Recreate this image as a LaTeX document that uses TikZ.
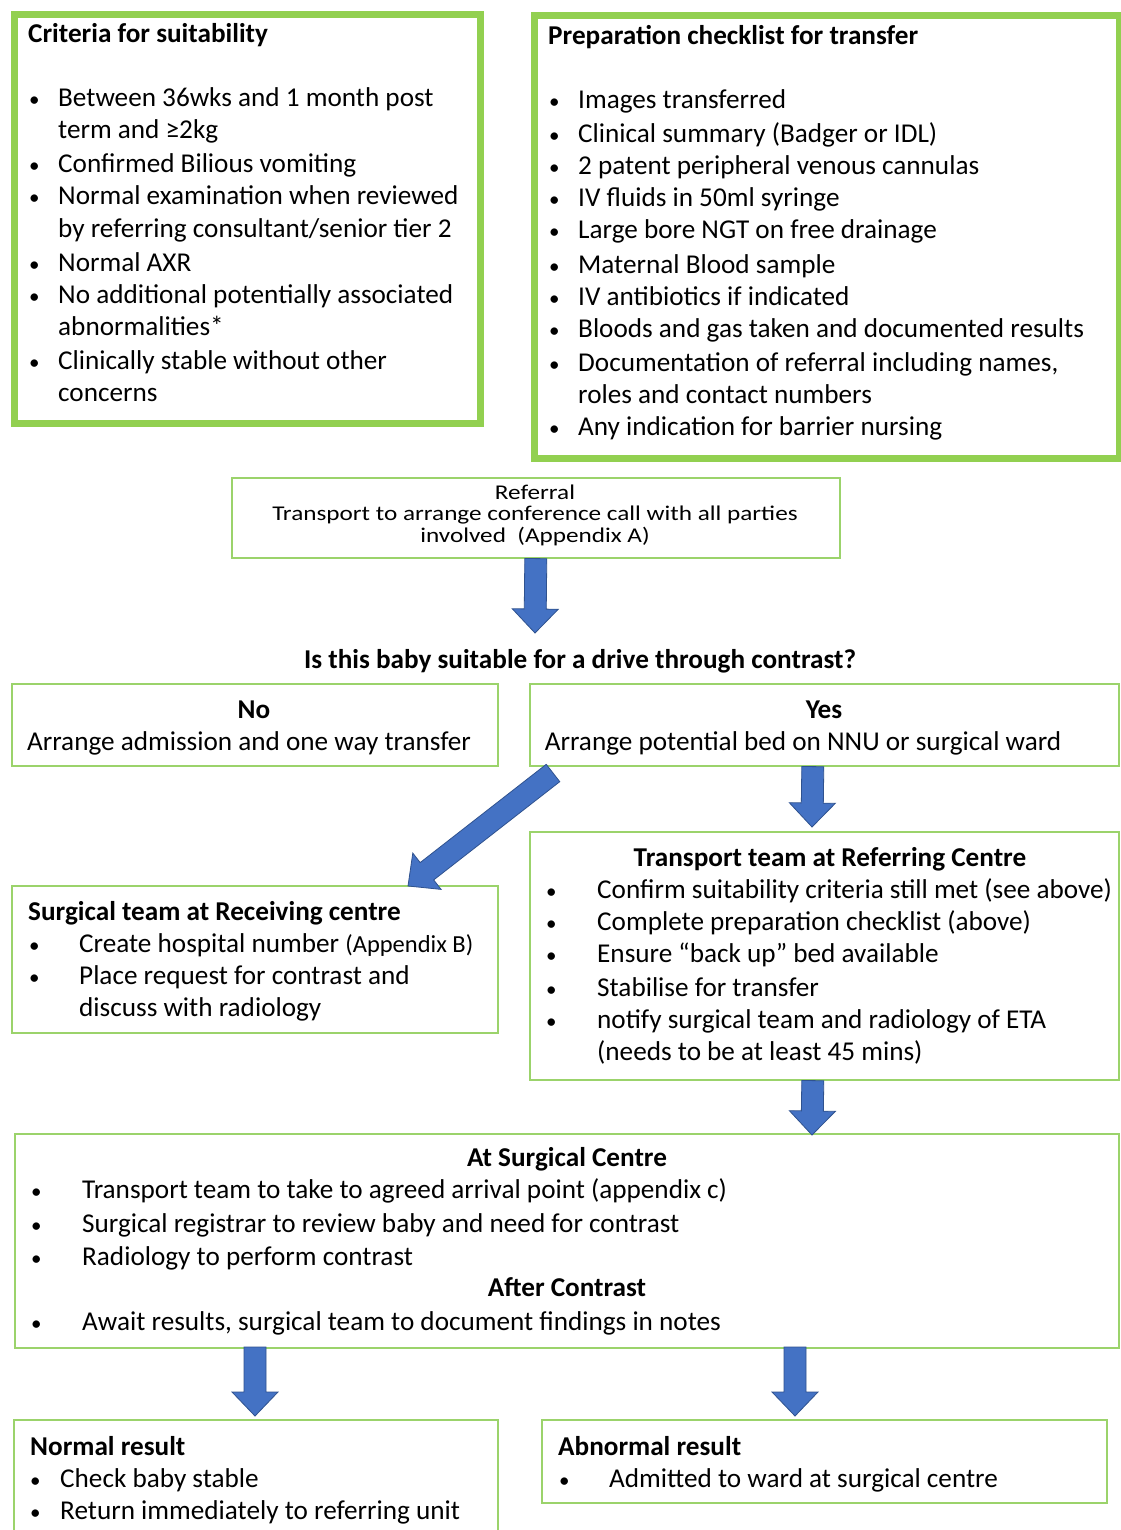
\documentclass[tikz,border=0pt]{standalone}
\usepackage{fontspec}
\usepackage{graphicx}
\setmainfont{Carlito}
\usetikzlibrary{calc}
\definecolor{grn}{HTML}{92D050}
\definecolor{grnthin}{HTML}{9BD36B}
\definecolor{arrfill}{HTML}{4472C4}
\definecolor{arrline}{HTML}{2F528F}
\newcommand\fsz[2]{\fontsize{#1}{#2}\selectfont}
\newcommand\wide[1]{\scalebox{1.2}[1]{#1}}
\newcommand\blockarrow[2]{%
  \coordinate (ba-h) at ($(#2)!24pt!(#1)$);
  \draw[barrow] ($(#1)!11pt!90:(#2)$) -- ($(ba-h)!11pt!90:(#2)$) -- ($(ba-h)!23pt!90:(#2)$) -- (#2)
    -- ($(ba-h)!23pt!-90:(#2)$) -- ($(ba-h)!11pt!-90:(#2)$) -- ($(#1)!11pt!-90:(#2)$) -- cycle;}
\tikzset{
  thickbox/.style={draw=grn, line width=7pt, fill=white, inner sep=0, anchor=north west},
  thinbox/.style={draw=grnthin, line width=1.6pt, fill=white, inner sep=0, anchor=north west},
  txt/.style={inner sep=0, anchor=base west, font=\fsz{27.2}{32}},
  ctxt/.style={inner sep=0, anchor=base, font=\fsz{27.2}{32}},
  btxt/.style={inner sep=0, anchor=base west, font=\fsz{27.2}{32}\bfseries},
  cbtxt/.style={inner sep=0, anchor=base, font=\fsz{27.2}{32}\bfseries},
  rtxt/.style={inner sep=0, anchor=base, font=\fsz{21}{21}},
  bul/.style={inner sep=0, anchor=base west, font=\fsz{21}{24}},
  barrow/.style={fill=arrfill, draw=arrline, line width=0.8pt, line join=miter}
}
\begin{document}
\begin{tikzpicture}[x=1pt,y=-1pt]
\useasboundingbox[fill=white] (0,0) rectangle (1120,1530);

% ---- Criteria box
\node[thickbox, minimum width=466pt, minimum height=409pt] (crit) at (11,11) {};
\node[btxt] (crit-title) at (28,43) {Criteria for suitability};
\foreach[count=\i] \yy in {98,164,196,262,294,360} \node[bul] (crit-b\i) at (29,\yy+9) {•};
\foreach[count=\i] \yy/\tt in {98/{Between 36wks and 1 month post},130/{term and ≥2kg},164/{Confirmed Bilious vomiting},196/{Normal examination when reviewed},228/{by referring consultant/senior tier 2},262/{Normal AXR},294/{No additional potentially associated},326/{abnormalities*},360/{Clinically stable without other},392/{concerns}}
  \node[txt] (crit-t\i) at (58,\yy+9) {\tt};

% ---- Preparation box
\node[thickbox, minimum width=585pt, minimum height=443pt] (prep) at (531,12) {};
\node[btxt] (prep-title) at (548,45) {Preparation checklist for transfer};
\foreach[count=\i] \yy in {100,134,166,198,230,264,296,328,362,426} \node[bul] (prep-b\i) at (549,\yy+9) {•};
\foreach[count=\i] \yy/\tt in {100/{Images transferred},134/{Clinical summary (Badger or IDL)},166/{2 patent peripheral venous cannulas},198/{IV fluids in 50ml syringe},230/{Large bore NGT on free drainage},264/{Maternal Blood sample},296/{IV antibiotics if indicated},328/{Bloods and gas taken and documented results},362/{Documentation of referral including names,},394/{roles and contact numbers},426/{Any indication for barrier nursing}}
  \node[txt] (prep-t\i) at (578,\yy+9) {\tt};

% ---- Referral
\node[thinbox, minimum width=608pt, minimum height=80pt] (ref) at (231,477) {};
\node[rtxt] (ref-t1) at (535,499) {\wide{Referral}};
\node[rtxt] (ref-t2) at (535,520) {\wide{Transport to arrange conference call with all parties}};
\node[rtxt] (ref-t3) at (535,542) {\wide{involved\ \ (Appendix A)}};

% ---- Question
\node[cbtxt] (quest) at (580,668) {Is this baby suitable for a drive through contrast?};
\coordinate (a1e) at (535,633);
\blockarrow{ref.south}{a1e}

% ---- No / Yes
\node[thinbox, minimum width=486pt, minimum height=82pt] (no) at (11,683) {};
\node[cbtxt] (no-t1) at (254,718) {No};
\node[ctxt] (no-t2) at (249,750) {Arrange admission and one way transfer};
\node[thinbox, minimum width=589pt, minimum height=82pt] (yes) at (529,683) {};
\node[cbtxt] (yes-t1) at (824,718) {Yes};
\node[ctxt] (yes-t2) at (803,750) {Arrange potential bed on NNU or surgical ward};

% ---- Transport team
\node[thinbox, minimum width=589pt, minimum height=248pt] (trans) at (529,831) {};
\node[cbtxt] (trans-title) at (830,866) {Transport team at Referring Centre};
\foreach[count=\i] \yy in {889,921,953,987,1019} \node[bul] (trans-b\i) at (546,\yy+9) {•};
\foreach[count=\i] \yy/\tt in {889/{Confirm suitability criteria still met (see above)},921/{Complete preparation checklist (above)},953/{Ensure “back up” bed available},987/{Stabilise for transfer},1019/{notify surgical team and radiology of ETA},1051/{(needs to be at least 45 mins)}}
  \node[txt] (trans-t\i) at (597,\yy+9) {\tt};

% ---- Surgical team
\node[thinbox, minimum width=486pt, minimum height=147pt] (surg) at (11,885) {};
\node[btxt] (surg-title) at (28,920) {Surgical team at Receiving centre};
\foreach[count=\i] \yy in {943,975} \node[bul] (surg-b\i) at (29,\yy+9) {•};
\node[txt] (surg-t1) at (79,952) {Create hospital number {\fsz{24.5}{24}(Appendix B)}};
\node[txt] (surg-t2) at (79,984) {Place request for contrast and};
\node[txt] (surg-t3) at (79,1016) {discuss with radiology};

% ---- arrows from Yes
\coordinate (a2s) at (553,773);
\coordinate (a2e) at (408,886);
\blockarrow{a2s}{a2e}
\coordinate (a3s) at ($(yes.south)+(-11.5,0)$);
\coordinate (a3e) at (812,827);
\blockarrow{a3s}{a3e}

% ---- At Surgical Centre
\node[thinbox, minimum width=1104pt, minimum height=214pt] (centre) at (14,1133) {};
\node[cbtxt] (centre-title) at (567,1166) {At Surgical Centre};
\foreach[count=\i] \yy in {1189,1223,1256,1321} \node[bul] (centre-b\i) at (31,\yy+9) {•};
\foreach[count=\i] \yy/\tt in {1189/{Transport team to take to agreed arrival point (appendix c)},1223/{Surgical registrar to review baby and need for contrast},1256/{Radiology to perform contrast},1321/{Await results, surgical team to document findings in notes}}
  \node[txt] (centre-t\i) at (82,\yy+9) {\tt};
\node[cbtxt] (after-title) at (567,1296) {After Contrast};

\coordinate (a4s) at ($(trans.south)+(-11.5,0)$);
\coordinate (a4e) at (812,1135);
\blockarrow{a4s}{a4e}

% ---- Results
\node[thinbox, minimum width=484pt, minimum height=125pt] (normal) at (13,1419) {};
\node[btxt] (normal-title) at (30,1455) {Normal result};
\foreach[count=\i] \yy in {1478,1510} \node[bul] (normal-b\i) at (30,\yy+9) {•};
\node[txt] (normal-t1) at (60,1487) {Check baby stable};
\node[txt] (normal-t2) at (60,1519) {Return immediately to referring unit};

\node[thinbox, minimum width=565pt, minimum height=83pt] (abn) at (541,1419) {};
\node[btxt] (abn-title) at (558,1455) {Abnormal result};
\node[bul] (abn-b1) at (559,1487) {•};
\node[txt] (abn-t1) at (609,1487) {Admitted to ward at surgical centre};

\coordinate (a5s) at (255,1347);
\coordinate (a5e) at (255,1416);
\blockarrow{a5s}{a5e}
\coordinate (a6s) at (795,1347);
\coordinate (a6e) at (795,1416);
\blockarrow{a6s}{a6e}
\end{tikzpicture}
\end{document}
